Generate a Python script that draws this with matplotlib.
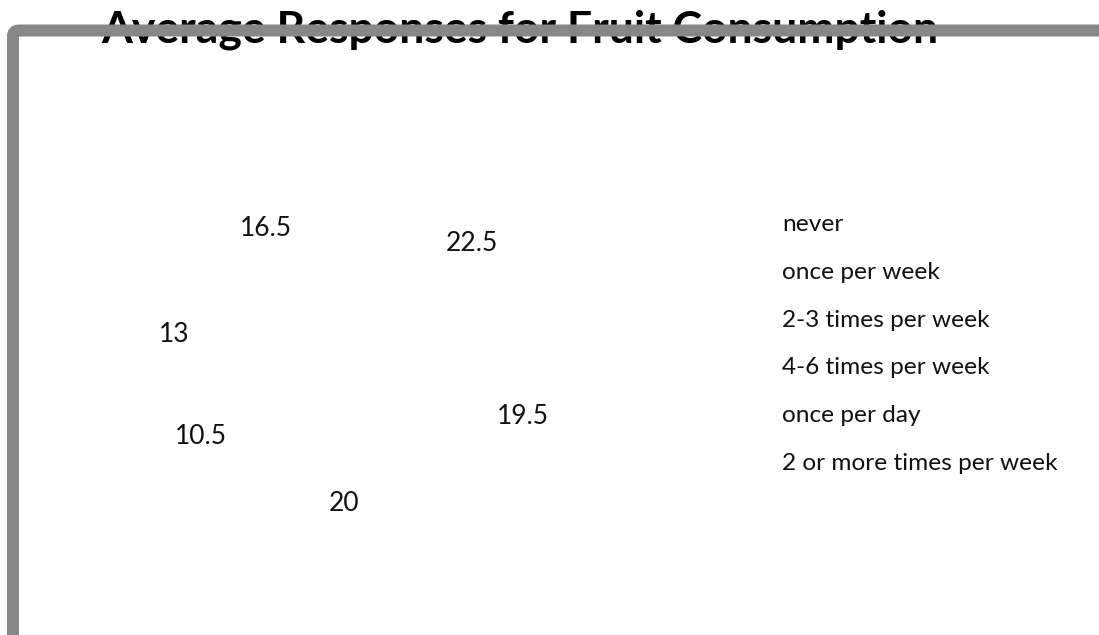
import matplotlib
matplotlib.use("Agg")
import matplotlib.pyplot as plt
from matplotlib.patches import FancyBboxPatch
from matplotlib.transforms import IdentityTransform

categories = ['never', 'once per week', '2-3 times per week', '4-6 times per week',
              'once per day', '2 or more times per week']
values = [22.5, 19.5, 20, 10.5, 13, 16.5]
title = 'Average Responses for Fruit Consumption'

plt.rcParams['font.family'] = ['Lato', 'DejaVu Sans']

W, H = 1099, 635
fig = plt.figure(figsize=(W / 100, H / 100), dpi=100)
fig.patch.set_facecolor('white')

# pie axes, stretched a bit wider than tall (label ring is an ellipse)
ax = fig.add_axes([80.5 / W, 57.5 / H, 549 / W, 441 / H])
wedges, texts = ax.pie(values, labels=[f'{v:g}' for v in values],
                       colors=['white'] * len(values), startangle=90,
                       counterclock=False, labeldistance=1.0,
                       wedgeprops=dict(edgecolor='white', linewidth=0),
                       textprops=dict(fontsize=19, color='#111111'))
for t in texts:
    t.set_ha('center')
    t.set_va('center')
ax.set_aspect('auto')
ax.set_xlim(-1.5, 1.5)
ax.set_ylim(-1.5, 1.5)
ax.axis('off')

leg = fig.legend(wedges, categories, loc='upper left',
                 bbox_to_anchor=(745.5 / W, 1 - 214 / H), frameon=False,
                 fontsize=17.6, borderpad=0, borderaxespad=0,
                 handlelength=1, handletextpad=0.5, labelspacing=1.09)
for t in leg.get_texts():
    t.set_color('#111111')

fig.text(520 / W, 1 - 43 / H, title, ha='center', va='baseline',
         fontsize=32, fontweight='bold', color='black', zorder=3)

# grey frame that overlaps the title
frame = FancyBboxPatch((13, -100), 1300, 604.5 + 100,
                       boxstyle='round,pad=0,rounding_size=6',
                       facecolor='none', edgecolor='#878787', linewidth=8.64,
                       transform=IdentityTransform(), zorder=5)
fig.add_artist(frame)

fig.savefig('out.png', dpi=100)
